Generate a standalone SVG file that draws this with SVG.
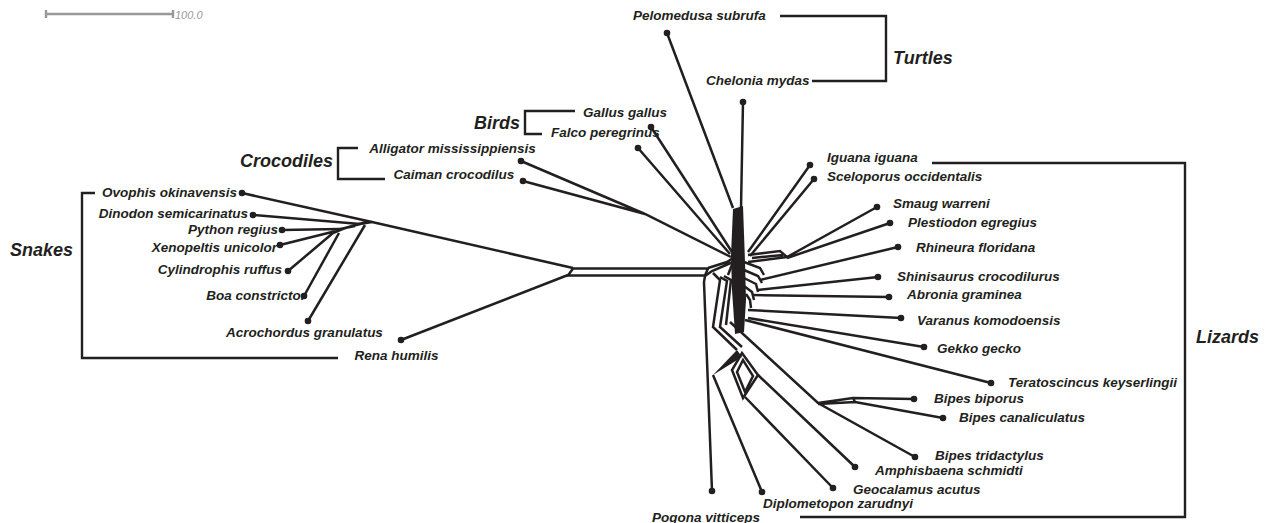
<svg xmlns="http://www.w3.org/2000/svg" width="1265" height="523" viewBox="0 0 1265 523">
<style>
.e{fill:none;stroke:#231f20;stroke-width:2.5;stroke-linejoin:miter;stroke-linecap:butt}
.b{fill:none;stroke:#231f20;stroke-width:2.4}
.d{fill:#231f20}
.t{font-family:"Liberation Sans",Arial,sans-serif;font-style:italic;font-weight:bold;font-size:13.5px;fill:#231f20}
.g{font-family:"Liberation Sans",Arial,sans-serif;font-style:italic;font-weight:bold;font-size:18px;fill:#231f20}
.f{fill:#231f20}
</style>
<rect width="1265" height="523" fill="#fff"/>
<g id="scale-bar">
<path d="M46,14H173M46,10V18M173,10V18" fill="none" stroke="#999" stroke-width="2.4"/>
<text x="175" y="19" font-family="Liberation Sans,Arial,sans-serif" font-style="italic" font-size="11" fill="#999">100.0</text>
</g>
<g id="connectors">
<path class="e" d="M242,193L372,222L573,268"/>
<path class="e" d="M253,215L360,224M282,230L340,229M280,245L336,231M288,271L333,233M304,296L339,233M308,321L365,225"/>
<path class="e" d="M333,233L345,228L360,224L372,222M340,229L355,226M336,231L352,226L366,222"/>
<path class="e" d="M401,340L568,275"/>
<path class="e" stroke-width="2.8" d="M573,268.5L708,268.5L705,275.5L568,275.5Z"/>
<path class="e" d="M708,268L727,262L733,258M705,276L712,271L733,262"/>
<path class="e" d="M705,276L704,282L712,491"/>
<path class="e" d="M713,273L720,280L713,327L737,350M720,277L727,281L720,327L742,347M724,276L731,280L726,325"/>
<polygon class="f" points="713,375 737,350 742,357"/>
<path class="e" d="M732,370L743,398L758,375L742,353ZM737,372L745,392L753,376L743,360Z"/>
<path class="e" d="M762,492L713,375M833,488L745,397M855,467L758,375"/>
<path class="e" d="M730,322L818,403L915,457M818,403L853,398L914,399M818,404L855,402L943,418M853,398L855,402"/>
<path class="e" d="M667,33L733,208M743,102L741,208"/>
<path class="e" d="M651,127L732,252M638,148L730,254"/>
<path class="e" d="M521,161L645,214M523,181L645,214L731,257"/>
<polygon class="f" points="733,209 743,206 745,262 746,300 744,332 735,334 732,290 731,255"/>
<path class="e" d="M810,165L748,252M814,179L750,256"/>
<path class="e" d="M877,207L787,257M890,223L787,258M748,255L780,251L787,257M748,262L787,257M752,258L783,255"/>
<path class="e" d="M898,247L760,280M878,277L758,290M889,297L752,295M901,318L748,310M924,347L748,318M991,383L745,320"/>
<path class="e" d="M744,262L760,268L764,275M744,270L758,276L762,283M744,278L756,284L758,292M744,286L752,292L754,300M740,250L733,262L728,275M746,294L750,300L751,308"/>
</g>
<g id="group-snakes"><path class="b" d="M95,193H82V358H338"/><text class="g" x="10" y="256">Snakes</text></g>
<g id="group-crocodiles"><path class="b" d="M358,148H338V179H385"/><text class="g" x="333" y="167" text-anchor="end">Crocodiles</text></g>
<g id="group-birds"><path class="b" d="M575,111H525V134H542"/><text class="g" x="520" y="129" text-anchor="end">Birds</text></g>
<g id="group-turtles"><path class="b" d="M780,16H886V81H812"/><text class="g" x="893" y="64">Turtles</text></g>
<g id="group-lizards"><path class="b" d="M932,163H1185V517H800"/><text class="g" x="1196" y="343">Lizards</text></g>
<g id="ovophis"><circle class="d" cx="242" cy="193" r="3.3"/><text class="t" x="237" y="197" text-anchor="end">Ovophis okinavensis</text></g>
<g id="dinodon"><circle class="d" cx="253" cy="215" r="3.3"/><text class="t" x="248" y="218" text-anchor="end">Dinodon semicarinatus</text></g>
<g id="python"><circle class="d" cx="282" cy="230" r="3.3"/><text class="t" x="278" y="234" text-anchor="end">Python regius</text></g>
<g id="xenopeltis"><circle class="d" cx="280" cy="245" r="3.3"/><text class="t" x="277" y="252" text-anchor="end">Xenopeltis unicolor</text></g>
<g id="cylindrophis"><circle class="d" cx="288" cy="271" r="3.3"/><text class="t" x="282" y="274" text-anchor="end">Cylindrophis ruffus</text></g>
<g id="boa"><circle class="d" cx="304" cy="296" r="3.3"/><text class="t" x="306" y="300" text-anchor="end">Boa constrictor</text></g>
<g id="acrochordus"><circle class="d" cx="308" cy="321" r="3.3"/><text class="t" x="304.5" y="337" text-anchor="middle">Acrochordus granulatus</text></g>
<g id="rena"><circle class="d" cx="401" cy="340" r="3.3"/><text class="t" x="396.5" y="360" text-anchor="middle">Rena humilis</text></g>
<g id="alligator"><circle class="d" cx="521" cy="161" r="3.3"/><text class="t" x="452.5" y="153" text-anchor="middle">Alligator mississippiensis</text></g>
<g id="caiman"><circle class="d" cx="523" cy="181" r="3.3"/><text class="t" x="454" y="179" text-anchor="middle">Caiman crocodilus</text></g>
<g id="gallus"><circle class="d" cx="651" cy="127" r="3.3"/><text class="t" x="583" y="117">Gallus gallus</text></g>
<g id="falco"><circle class="d" cx="638" cy="148" r="3.3"/><text class="t" x="551" y="137">Falco peregrinus</text></g>
<g id="pelomedusa"><circle class="d" cx="667" cy="33" r="3.3"/><text class="t" x="633" y="20">Pelomedusa subrufa</text></g>
<g id="chelonia"><circle class="d" cx="743" cy="102" r="3.3"/><text class="t" x="706" y="85">Chelonia mydas</text></g>
<g id="iguana"><circle class="d" cx="810" cy="165" r="3.3"/><text class="t" x="827" y="162">Iguana iguana</text></g>
<g id="sceloporus"><circle class="d" cx="814" cy="179" r="3.3"/><text class="t" x="827" y="181">Sceloporus occidentalis</text></g>
<g id="smaug"><circle class="d" cx="877" cy="207" r="3.3"/><text class="t" x="893" y="208">Smaug warreni</text></g>
<g id="plestiodon"><circle class="d" cx="890" cy="223" r="3.3"/><text class="t" x="908" y="227">Plestiodon egregius</text></g>
<g id="rhineura"><circle class="d" cx="898" cy="247" r="3.3"/><text class="t" x="916" y="252">Rhineura floridana</text></g>
<g id="shinisaurus"><circle class="d" cx="878" cy="277" r="3.3"/><text class="t" x="897" y="281">Shinisaurus crocodilurus</text></g>
<g id="abronia"><circle class="d" cx="889" cy="297" r="3.3"/><text class="t" x="907" y="299">Abronia graminea</text></g>
<g id="varanus"><circle class="d" cx="901" cy="318" r="3.3"/><text class="t" x="917" y="325">Varanus komodoensis</text></g>
<g id="gekko"><circle class="d" cx="924" cy="347" r="3.3"/><text class="t" x="937" y="353">Gekko gecko</text></g>
<g id="teratoscincus"><circle class="d" cx="991" cy="383" r="3.3"/><text class="t" x="1008" y="387">Teratoscincus keyserlingii</text></g>
<g id="bipes-biporus"><circle class="d" cx="914" cy="399" r="3.3"/><text class="t" x="934" y="403">Bipes biporus</text></g>
<g id="bipes-canaliculatus"><circle class="d" cx="943" cy="418" r="3.3"/><text class="t" x="959" y="422">Bipes canaliculatus</text></g>
<g id="bipes-tridactylus"><circle class="d" cx="915" cy="457" r="3.3"/><text class="t" x="935" y="460">Bipes tridactylus</text></g>
<g id="amphisbaena"><circle class="d" cx="855" cy="467" r="3.3"/><text class="t" x="875" y="475">Amphisbaena schmidti</text></g>
<g id="geocalamus"><circle class="d" cx="833" cy="488" r="3.3"/><text class="t" x="853" y="494">Geocalamus acutus</text></g>
<g id="diplometopon"><circle class="d" cx="762" cy="492" r="3.3"/><text class="t" x="763" y="508">Diplometopon zarudnyi</text></g>
<g id="pogona"><circle class="d" cx="712" cy="491" r="3.3"/><text class="t" x="652" y="522">Pogona vitticeps</text></g>
</svg>
